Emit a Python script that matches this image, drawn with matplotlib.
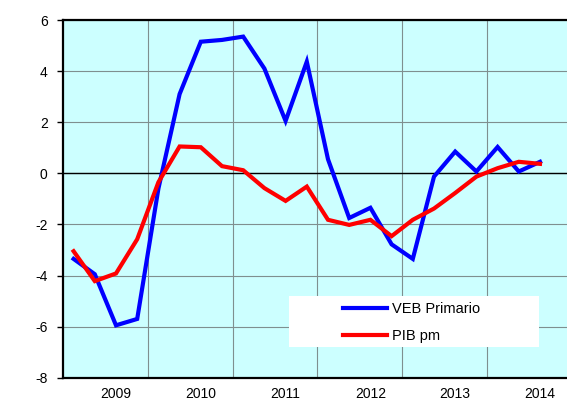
import numpy as np
import matplotlib.pyplot as plt
from matplotlib.patches import Rectangle

# Datos trimestrales (tasa de variación, %)
veb_primario = [-3.35, -3.95, -5.95, -5.7, -0.6, 3.1, 5.15, 5.22, 5.35, 4.1,
                2.05, 4.37, 0.55, -1.75, -1.35, -2.78, -3.35, -0.13, 0.85,
                0.07, 1.03, 0.07, 0.45]
pib_pm = [-3.05, -4.22, -3.92, -2.58, -0.35, 1.05, 1.02, 0.28, 0.12, -0.58,
          -1.08, -0.52, -1.82, -2.02, -1.82, -2.46, -1.82, -1.38, -0.77,
          -0.13, 0.2, 0.45, 0.37]
anios = ["2009", "2010", "2011", "2012", "2013", "2014"]
n_cat = 24

plt.rcParams['font.family'] = ['Liberation Sans', 'DejaVu Sans']
plt.rcParams['axes.unicode_minus'] = False

fig = plt.figure(figsize=(5.67, 4.01), dpi=100)
W, H = 567, 401
ax = fig.add_axes([63 / W, (H - 377.7) / H, 508.8 / W, 357.7 / H])
ax.set_facecolor('#CCFFFF')

x = np.arange(len(veb_primario))
ax.plot(x, veb_primario, color='#0000FF', lw=3, label='VEB Primario', zorder=3,
        solid_joinstyle='miter')
ax.plot(x, pib_pm, color='#FF0000', lw=3, label='PIB pm', zorder=3,
        solid_joinstyle='miter')

ax.set_xlim(-0.5, n_cat - 0.5)
ax.set_ylim(-8, 6)
ax.set_yticks(np.arange(-8, 7, 2))
ax.set_xticks(np.arange(2, n_cat, 4))
ax.set_xticklabels(anios)
ax.set_xticks(np.arange(3.5, n_cat - 1, 4), minor=True)

ax.grid(True, which='major', axis='y', color='#7F8F8F', lw=0.8, zorder=1)
ax.grid(True, which='minor', axis='x', color='#7F8F8F', lw=0.8, zorder=1)
ax.axhline(0, color='black', lw=1, zorder=2)
ax.set_axisbelow(True)

ax.tick_params(axis='y', direction='out', length=4, width=1, pad=7, labelsize=10)
ax.tick_params(axis='x', which='both', length=0, pad=7, labelsize=10)

for s in ['left', 'bottom', 'top']:
    ax.spines[s].set_linewidth(1.6)
    ax.spines[s].set_color('black')
ax.spines['right'].set_visible(False)

# Caja blanca de la leyenda
ax.add_patch(Rectangle((0.444, 0.0858), 0.4915, 0.1426, transform=ax.transAxes,
                       facecolor='white', edgecolor='none', zorder=4))
leg = ax.legend(loc='upper left', bbox_to_anchor=(0.55, 0.211), frameon=False,
                fontsize=10.5, handlelength=3.0, handletextpad=0.35,
                labelspacing=0.9, borderpad=0, borderaxespad=0)
leg.set_zorder(5)

fig.savefig('out.png', dpi=100)
